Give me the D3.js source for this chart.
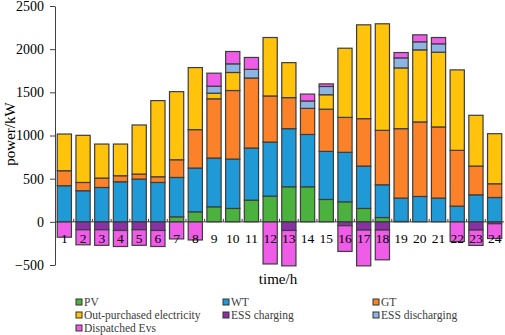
<!DOCTYPE html>
<html>
<head>
<meta charset="utf-8">
<script src="https://cdn.jsdelivr.net/npm/d3@7"></script>
<style>
  body { margin: 0; background: #fff; }
</style>
</head>
<body>
<div id="chart"></div>
<script>
const hours = d3.range(1, 25).map(String);

// power per hour, kW
const pv = [0, 0, 0, 0, 0, 0, 58, 116, 174, 155, 251, 298, 406, 406, 259, 232, 155, 50, 5, 0, 0, 0, 0, 0];
const wt = [418, 360, 398, 464, 495, 456, 456, 507, 565, 572, 604, 626, 673, 606, 557, 573, 491, 379, 270, 294, 275, 182, 313, 282];
const gt = [174, 96, 109, 70, 58, 66, 205, 445, 686, 794, 811, 534, 360, 302, 489, 405, 549, 631, 804, 863, 824, 646, 333, 159];
const outPurchased = [425, 546, 394, 367, 569, 882, 789, 719, 65, 209, 0, 677, 405, 0, 167, 801, 1087, 1234, 704, 835, 866, 932, 588, 580];
const essCharging = [0, -92, -92, -100, -92, -100, 0, 0, 0, 0, 0, 0, -100, 0, 0, -45, -95, -95, 0, 0, 0, 0, -95, -22];
const essDischarging = [0, 0, 0, 0, 0, 0, 0, 0, 81, 100, 100, 0, 0, 86, 96, 0, 0, 0, 116, 93, 97, 0, 0, 0];
const dispatchedEvs = [-178, -174, -180, -186, -180, -186, -198, -210, 151, 143, 138, -488, -410, 80, 30, -298, -415, -345, 62, 81, 73, -228, -178, -172];

const seriesNames = ['PV', 'WT', 'GT', 'Out-purchased electricity', 'ESS charging', 'ESS discharging', 'Dispatched Evs'];
const seriesValues = [pv, wt, gt, outPurchased, essCharging, essDischarging, dispatchedEvs];
const seriesColors = ['#4bb33d', '#1f9ad7', '#fb8229', '#ffc30b', '#8a31a6', '#8db4e3', '#ee5ce8'];

const yTicks = [-500, 0, 500, 1000, 1500, 2000, 2500];

const fontFamily = '"Liberation Serif", "DejaVu Serif", "Liberation Sans", sans-serif';

const config = {
  width: 505,
  height: 335,
  left: 55,
  right: 504,
  top: 6,
  bottom: 265
};

const svg = d3.select('#chart').append('svg')
  .attr('width', config.width)
  .attr('height', config.height)
  .attr('font-family', fontFamily);

// one row per hour, one column per series
const table = hours.map((h, i) => {
  const row = { hour: h };
  seriesNames.forEach((name, k) => row[name] = seriesValues[k][i]);
  return row;
});

const stack = d3.stack()
  .keys(seriesNames)
  .offset(d3.stackOffsetDiverging);
const layers = stack(table);

const xScale = d3.scaleBand()
  .domain(hours)
  .range([config.left, config.right])
  .paddingInner(0.24)
  .paddingOuter(0.12);

const yScale = d3.scaleLinear()
  .domain([-500, 2500])
  .range([config.bottom, config.top]);

const colorScale = d3.scaleOrdinal()
  .domain(seriesNames)
  .range(seriesColors);

// bars
svg.append('g').selectAll('g')
  .data(layers)
  .join('g')
    .attr('fill', d => colorScale(d.key))
  .selectAll('rect')
  .data(d => d.filter(s => s[1] - s[0] !== 0))
  .join('rect')
    .attr('x', d => xScale(d.data.hour))
    .attr('y', d => yScale(Math.max(d[0], d[1])))
    .attr('width', xScale.bandwidth())
    .attr('height', d => Math.abs(yScale(d[0]) - yScale(d[1])))
    .attr('stroke', '#3d3d3d')
    .attr('stroke-width', 1.2);

// y axis
const yAxis = d3.axisLeft(yScale)
  .tickValues(yTicks)
  .tickFormat(d3.format('d'))
  .tickSize(5)
  .tickSizeOuter(0)
  .tickPadding(6);

const yAxisGroup = svg.append('g')
  .attr('transform', `translate(${config.left},0)`)
  .call(yAxis)
  .attr('font-family', fontFamily)
  .attr('font-size', 14);
yAxisGroup.select('.domain').attr('stroke', '#404040');
yAxisGroup.selectAll('.tick line').attr('stroke', '#404040');
yAxisGroup.selectAll('text').attr('fill', '#000');

// x axis sits on the zero line, labels just below it
const zeroY = yScale(0);
const xAxisGroup = svg.append('g');
xAxisGroup.append('line')
  .attr('x1', config.left)
  .attr('x2', config.right)
  .attr('y1', zeroY)
  .attr('y2', zeroY)
  .attr('stroke', '#404040');

xAxisGroup.selectAll('.xtick')
  .data(hours.slice(1))
  .join('line')
    .attr('class', 'xtick')
    .attr('x1', d => xScale(d) - xScale.step() * xScale.paddingInner() / 2)
    .attr('x2', d => xScale(d) - xScale.step() * xScale.paddingInner() / 2)
    .attr('y1', zeroY)
    .attr('y2', zeroY - 3)
    .attr('stroke', '#404040');

xAxisGroup.selectAll('.xlabel')
  .data(hours)
  .join('text')
    .attr('class', 'xlabel')
    .attr('x', d => xScale(d) + xScale.bandwidth() / 2)
    .attr('y', zeroY + 21)
    .attr('text-anchor', 'middle')
    .attr('font-size', 13.5)
    .text(d => d);

// axis titles
svg.append('text')
  .attr('x', 278)
  .attr('y', 284)
  .attr('text-anchor', 'middle')
  .attr('font-size', 15)
  .text('time/h');

svg.append('text')
  .attr('transform', 'translate(15,134) rotate(-90)')
  .attr('text-anchor', 'middle')
  .attr('font-size', 15)
  .text('power/kW');

// legend, three columns
const legendCols = [76, 223, 373];
const legendRows = [305.5, 318.5, 331.5];

const legend = svg.append('g').selectAll('g')
  .data(seriesNames)
  .join('g')
    .attr('transform', (d, i) => `translate(${legendCols[i % 3]},${legendRows[Math.floor(i / 3)]})`);

legend.append('rect')
  .attr('x', 0)
  .attr('y', -6.5)
  .attr('width', 6)
  .attr('height', 6)
  .attr('fill', d => colorScale(d))
  .attr('stroke', '#333')
  .attr('stroke-width', 1);

legend.append('text')
  .attr('x', 8)
  .attr('y', 0)
  .attr('fill', '#3c3c3c')
  .attr('font-size', 11.5)
  .text(d => d);
</script>
</body>
</html>
